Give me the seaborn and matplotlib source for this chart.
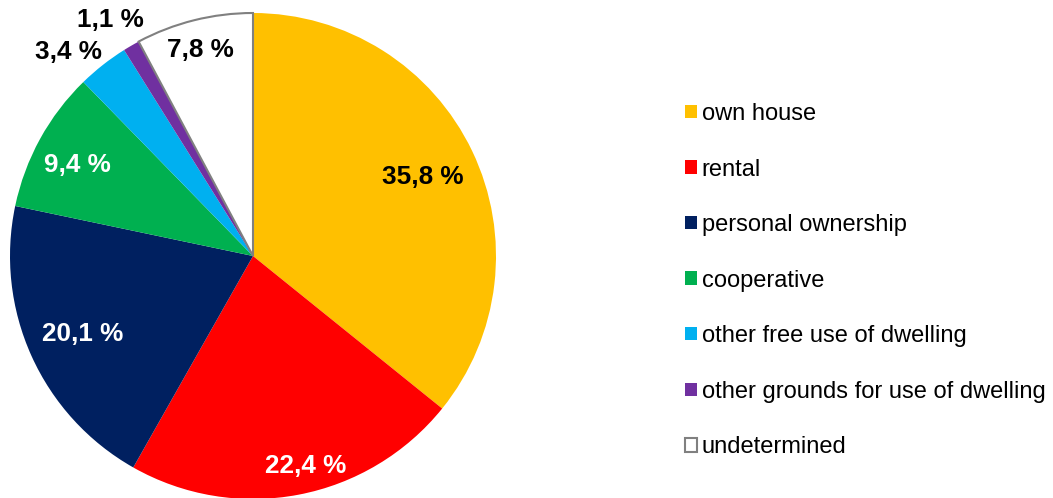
import numpy as np
import matplotlib.pyplot as plt
import seaborn as sns

categories = ['own house', 'rental', 'personal ownership', 'cooperative',
              'other free use of dwelling', 'other grounds for use of dwelling',
              'undetermined']
shares = [35.8, 22.4, 20.1, 9.4, 3.4, 1.1, 7.8]
colors = ['#FFC000', '#FF0000', '#002060', '#00B050', '#00B0F0', '#7030A0', '#FFFFFF']
label_colors = ['black', 'white', 'white', 'white', 'black', 'black', 'black']
# label placement: radial distance and small angular nudge (degrees)
label_dist = [0.77, 0.89, 0.77, 0.815, 1.13, 1.135, 0.875]
label_nudge = [-0.7, 3.4, 0.4, 1.5, 4.0, 1.1, 0.2]

sns.set_theme(style='white')
plt.rcParams['font.family'] = ['Liberation Sans', 'DejaVu Sans']

fig = plt.figure(figsize=(10.53, 4.98), dpi=100)
r_px = 243
ax = fig.add_axes([(253 - r_px) / 1053, (242 - r_px) / 498, 2 * r_px / 1053, 2 * r_px / 498])

wedges, _ = ax.pie(shares, colors=colors, startangle=90, counterclock=False,
                   radius=1, wedgeprops=dict(linewidth=0))
wedges[-1].set_edgecolor('#808080')
wedges[-1].set_linewidth(1.5)
ax.set_xlim(-1, 1)
ax.set_ylim(-1, 1)
ax.set_aspect('equal')
ax.axis('off')

for w, v, c, d, n in zip(wedges, shares, label_colors, label_dist, label_nudge):
    ang = np.deg2rad((w.theta1 + w.theta2) / 2 + n)
    ax.text(d * np.cos(ang), d * np.sin(ang), f'{v:.1f} %'.replace('.', ','),
            ha='center', va='center', color=c, fontsize=18.8, fontweight='bold',
            clip_on=False)

leg = fig.legend(wedges, categories, loc='upper left', bbox_to_anchor=(685 / 1053, 1 - 103 / 498),
                 frameon=False, fontsize=17, handlelength=0.5, handleheight=0.5,
                 handletextpad=0.2, labelspacing=1.42, borderpad=0, borderaxespad=0)
for t in leg.get_texts():
    t.set_color('black')

fig.savefig('out.png', dpi=100)
